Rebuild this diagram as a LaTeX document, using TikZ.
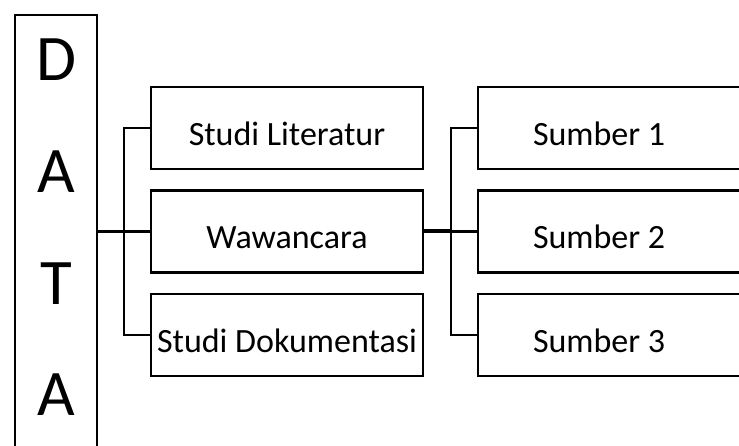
\documentclass[tikz,border=0pt]{standalone}
\usepackage{fontspec}
\setmainfont{Carlito}
\usetikzlibrary{positioning}

\begin{document}
\begin{tikzpicture}[
x=1pt, y=-1pt,
data_box/.style={rectangle, draw=black, line width=2.2pt, minimum width=82pt, inner ysep=24pt, align=center, font=\fontsize{65}{111.7}\selectfont, text depth=60pt},
square/.style={rectangle, draw=black, fill=white, line width=2.2pt, minimum width=272pt, minimum height=82pt, font=\fontsize{34}{40}\selectfont, text height=35pt, text depth=0pt},
wide_square/.style={square, minimum width=300pt, text width=190pt, inner xsep=55pt, align=flush left},
link/.style={line width=2.2pt},
thick_link/.style={line width=4pt}
]

\useasboundingbox (0,0) rectangle (739,446);

\node[data_box, anchor=north](data) at (56,14) {D\\A\\T\\A};

\node[square](literatur) at (287,128) {Studi Literatur};
\node[square](wawancara) at (287,231.5) {Wawancara};
\node[square](dokumentasi) at (287,335) {Studi Dokumentasi};

\node[wide_square](sumber_1) at (628,128) {Sumber 1};
\node[wide_square](sumber_2) at (628,231.5) {Sumber 2};
\node[wide_square](sumber_3) at (628,335) {Sumber 3};

\coordinate (left_bus) at (124,0);
\coordinate (right_bus) at (451,0);



\draw[link](data.east |- wawancara.west) -- (wawancara.west);
\draw[link](literatur.west) -- (literatur.west -| left_bus) -- (dokumentasi.west -| left_bus) -- (dokumentasi.west);

\draw[thick_link](wawancara.east) -- (wawancara.east -| right_bus);
\draw[link](sumber_1.west) -- (sumber_1.west -| right_bus) -- (sumber_3.west -| right_bus) -- (sumber_3.west);
\draw[link](sumber_2.west) -- (sumber_2.west -| right_bus);
\end{tikzpicture}
\end{document}
